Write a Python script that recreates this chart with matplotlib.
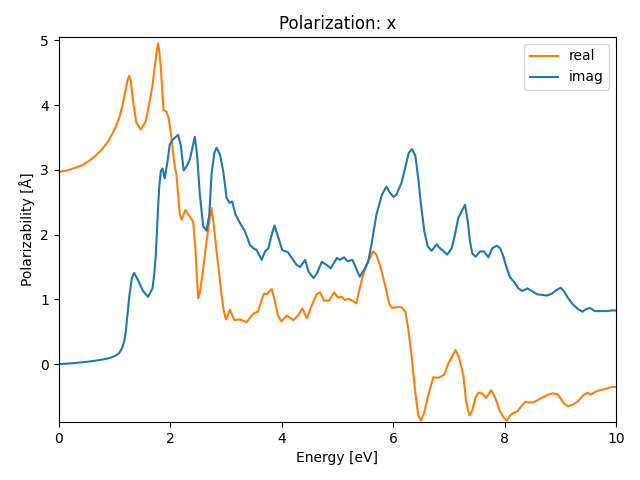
import matplotlib
matplotlib.use("Agg")
import matplotlib.pyplot as plt

# values
energy_real = [0.00, 0.15, 0.29, 0.42, 0.53, 0.65, 0.77, 0.87, 0.95, 1.03,
               1.10, 1.14, 1.18, 1.22, 1.24, 1.26, 1.29, 1.33, 1.39, 1.47,
               1.56, 1.63, 1.68, 1.72, 1.75, 1.78, 1.80, 1.83, 1.86, 1.88,
               1.93, 1.97, 2.02, 2.08, 2.11, 2.17, 2.20, 2.27, 2.35, 2.41,
               2.45, 2.48, 2.50, 2.53, 2.56, 2.60, 2.65, 2.70, 2.74, 2.78,
               2.83, 2.88, 2.92, 2.96, 3.00, 3.07, 3.15, 3.25, 3.37, 3.49,
               3.57, 3.68, 3.73, 3.82, 3.87, 3.93, 3.99, 4.09, 4.21, 4.30,
               4.37, 4.45, 4.54, 4.63, 4.69, 4.76, 4.85, 4.94, 5.01, 5.08,
               5.13, 5.19, 5.27, 5.34, 5.40, 5.46, 5.55, 5.64, 5.70, 5.79,
               5.86, 5.93, 5.98, 6.06, 6.15, 6.22, 6.27, 6.33, 6.39, 6.45,
               6.50, 6.56, 6.63, 6.72, 6.78, 6.84, 6.92, 6.99, 7.05, 7.12,
               7.18, 7.26, 7.31, 7.37, 7.42, 7.48, 7.53, 7.60, 7.67, 7.76,
               7.83, 7.90, 7.98, 8.04, 8.10, 8.16, 8.23, 8.29, 8.37, 8.44,
               8.52, 8.60, 8.69, 8.78, 8.87, 8.95, 9.01, 9.07, 9.14, 9.23,
               9.32, 9.41, 9.49, 9.55, 9.62, 9.71, 9.82, 9.92, 10.0]
real = [2.97, 2.99, 3.03, 3.07, 3.13, 3.21, 3.31, 3.42, 3.54, 3.68,
        3.85, 3.99, 4.16, 4.33, 4.40, 4.45, 4.38, 4.06, 3.73, 3.62,
        3.75, 4.06, 4.30, 4.58, 4.80, 4.95, 4.85, 4.58, 4.15, 3.92,
        3.90, 3.80, 3.50, 3.05, 2.93, 2.31, 2.23, 2.38, 2.28, 2.20,
        1.79, 1.30, 1.02, 1.10, 1.27, 1.55, 1.89, 2.20, 2.41, 2.15,
        1.74, 1.38, 1.07, 0.82, 0.69, 0.84, 0.68, 0.69, 0.65, 0.78,
        0.81, 1.09, 1.08, 1.16, 1.00, 0.76, 0.66, 0.75, 0.68, 0.76,
        0.86, 0.71, 0.91, 1.08, 1.11, 0.98, 0.98, 1.11, 1.03, 1.04,
        0.99, 1.01, 0.98, 0.94, 1.17, 1.38, 1.58, 1.74, 1.69, 1.45,
        1.20, 0.93, 0.87, 0.88, 0.88, 0.81, 0.55, 0.14, -0.38, -0.79,
        -0.87, -0.74, -0.48, -0.20, -0.21, -0.20, -0.16, 0.01, 0.11, 0.22,
        0.11, -0.17, -0.58, -0.79, -0.71, -0.51, -0.44, -0.45, -0.52, -0.40,
        -0.51, -0.69, -0.82, -0.87, -0.79, -0.75, -0.73, -0.66, -0.58, -0.59,
        -0.59, -0.55, -0.51, -0.47, -0.45, -0.46, -0.53, -0.61, -0.65, -0.62,
        -0.57, -0.48, -0.44, -0.47, -0.43, -0.40, -0.38, -0.35, -0.35]

energy_imag = [0.00, 0.30, 0.53, 0.70, 0.83, 0.93, 1.01, 1.08, 1.13, 1.17,
               1.20, 1.23, 1.26, 1.31, 1.35, 1.42, 1.51, 1.60, 1.68, 1.71,
               1.74, 1.76, 1.78, 1.80, 1.83, 1.86, 1.90, 1.95, 1.99, 2.05,
               2.14, 2.19, 2.24, 2.29, 2.35, 2.39, 2.44, 2.48, 2.53, 2.59,
               2.65, 2.70, 2.74, 2.79, 2.83, 2.89, 2.95, 3.01, 3.06, 3.11,
               3.17, 3.25, 3.34, 3.43, 3.49, 3.55, 3.64, 3.70, 3.76, 3.82,
               3.87, 3.94, 4.01, 4.11, 4.18, 4.27, 4.33, 4.42, 4.48, 4.57,
               4.63, 4.72, 4.81, 4.88, 4.99, 5.04, 5.12, 5.18, 5.27, 5.31,
               5.40, 5.48, 5.55, 5.61, 5.70, 5.80, 5.88, 5.94, 6.01, 6.06,
               6.15, 6.22, 6.28, 6.34, 6.40, 6.45, 6.50, 6.56, 6.62, 6.69,
               6.78, 6.84, 6.90, 6.97, 7.05, 7.11, 7.17, 7.24, 7.29, 7.34,
               7.38, 7.42, 7.48, 7.56, 7.63, 7.71, 7.78, 7.86, 7.92, 7.98,
               8.04, 8.10, 8.17, 8.25, 8.32, 8.41, 8.49, 8.58, 8.67, 8.76,
               8.85, 8.94, 9.01, 9.07, 9.14, 9.23, 9.32, 9.40, 9.46, 9.53,
               9.62, 9.71, 9.83, 9.92, 10.0]
imag = [0.00, 0.02, 0.04, 0.06, 0.08, 0.10, 0.13, 0.17, 0.24, 0.34,
        0.50, 0.75, 1.02, 1.33, 1.41, 1.30, 1.13, 1.04, 1.17, 1.38,
        1.69, 2.05, 2.41, 2.72, 2.98, 3.02, 2.87, 3.13, 3.39, 3.47,
        3.54, 3.37, 2.99, 3.05, 3.16, 3.31, 3.51, 3.24, 2.62, 2.13,
        2.06, 2.31, 2.93, 3.26, 3.34, 3.24, 2.98, 2.57, 2.49, 2.51,
        2.31, 2.18, 2.05, 1.84, 1.79, 1.76, 1.61, 1.74, 1.79, 2.00,
        2.14, 1.95, 1.76, 1.73, 1.64, 1.53, 1.50, 1.61, 1.43, 1.33,
        1.40, 1.58, 1.53, 1.48, 1.64, 1.61, 1.65, 1.59, 1.61, 1.53,
        1.35, 1.46, 1.58, 1.84, 2.31, 2.62, 2.74, 2.65, 2.58, 2.62,
        2.80, 3.05, 3.26, 3.32, 3.21, 2.87, 2.46, 2.05, 1.82, 1.75,
        1.85, 1.79, 1.75, 1.69, 1.79, 2.00, 2.26, 2.38, 2.46, 2.20,
        1.89, 1.71, 1.66, 1.74, 1.74, 1.65, 1.79, 1.83, 1.79, 1.66,
        1.48, 1.34, 1.27, 1.17, 1.13, 1.17, 1.13, 1.08, 1.07, 1.06,
        1.09, 1.15, 1.18, 1.12, 1.02, 0.92, 0.85, 0.81, 0.85, 0.87,
        0.82, 0.82, 0.82, 0.83, 0.83]

fig, ax = plt.subplots(figsize=(6.4, 4.8), dpi=100)
ax.plot(energy_real, real, color='C1', label='real')
ax.plot(energy_imag, imag, color='C0', label='imag')

ax.set_xlim(0, 10)
ax.set_ylim(-0.89, 5.05)
ax.set_xlabel('Energy [eV]')
ax.set_ylabel('Polarizability [Å]')
ax.set_title('Polarization: x')
ax.legend(loc='upper right')

fig.subplots_adjust(left=0.092, right=0.9625, bottom=0.121, top=0.923)
fig.savefig('out.png')
